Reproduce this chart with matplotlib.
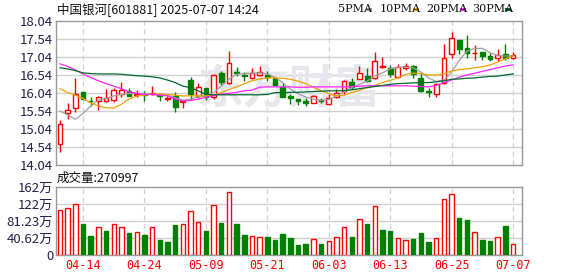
import matplotlib
matplotlib.use("Agg")
import matplotlib.pyplot as plt
import numpy as np

plt.rcParams['font.family'] = ['Noto Sans CJK SC', 'DejaVu Sans']

# daily OHLC, 2025-04-09 .. 2025-07-07
opens = [14.62, 15.49, 15.63, 16.06, 15.83, 15.82, 15.82, 15.84, 16.02, 16.10,
         15.99, 16.01, 16.01, 16.00, 15.88, 15.96, 15.80, 16.41, 15.96, 16.19,
         15.93, 16.60, 16.33, 16.62, 16.54, 16.46, 16.54, 16.53, 16.45, 16.21,
         15.96, 15.86, 15.83, 15.77, 15.84, 15.74, 15.94, 16.10, 16.35, 16.44,
         16.52, 16.45, 16.77, 16.74, 16.49, 16.74, 16.78, 16.47, 16.09, 16.00,
         16.33, 17.13, 17.52, 17.29, 17.14, 17.18, 17.08, 17.00, 17.13, 17.00]
closes = [15.19, 15.58, 16.00, 15.87, 15.81, 15.94, 15.89, 16.12, 16.13, 15.97,
          16.02, 15.98, 16.04, 15.96, 15.91, 15.66, 15.83, 16.00, 16.21, 15.93,
          16.53, 16.34, 16.88, 16.60, 16.51, 16.59, 16.63, 16.49, 16.25, 15.94,
          15.89, 15.82, 15.75, 15.95, 15.82, 15.89, 16.05, 16.37, 16.21, 16.60,
          16.37, 16.94, 16.80, 16.57, 16.77, 16.80, 16.57, 16.10, 16.07, 16.28,
          17.02, 17.57, 17.26, 17.14, 17.16, 17.08, 16.98, 17.10, 17.01, 17.09]
highs = [15.28, 15.76, 16.45, 16.07, 15.93, 15.95, 16.14, 16.19, 16.35, 16.17,
         16.11, 16.10, 16.23, 16.00, 15.97, 16.08, 15.84, 16.49, 16.31, 16.19,
         16.57, 16.65, 17.22, 16.77, 16.63, 16.74, 16.78, 16.65, 16.46, 16.33,
         16.00, 15.86, 15.89, 15.98, 15.89, 16.00, 16.16, 16.39, 16.46, 16.80,
         16.74, 17.18, 17.04, 16.83, 16.85, 16.88, 16.83, 16.60, 16.19, 16.33,
         17.41, 17.73, 17.52, 17.66, 17.38, 17.18, 17.15, 17.25, 17.41, 17.17]
lows = [14.39, 15.33, 15.52, 15.86, 15.68, 15.57, 15.80, 15.80, 15.93, 15.95,
        15.93, 15.82, 15.98, 15.82, 15.82, 15.51, 15.63, 15.84, 15.91, 15.84,
        15.88, 16.25, 16.28, 16.50, 16.37, 16.42, 16.51, 16.37, 16.23, 15.93,
        15.73, 15.70, 15.68, 15.75, 15.76, 15.71, 15.91, 16.02, 16.14, 16.42,
        16.34, 16.42, 16.74, 16.49, 16.46, 16.67, 16.46, 16.07, 15.93, 15.93,
        16.30, 17.02, 17.11, 17.02, 16.95, 16.95, 16.94, 16.94, 16.96, 16.98]

ma5 = [15.54, 15.43, 15.31, 15.47, 15.68, 15.84, 15.89, 15.96, 16.00, 16.03,
       16.03, 16.02, 16.00, 16.00, 15.98, 15.91, 15.84, 15.87, 15.93, 15.96,
       16.05, 16.23, 16.42, 16.56, 16.58, 16.59, 16.60, 16.57, 16.48, 16.33,
       16.15, 16.02, 15.93, 15.87, 15.84, 15.86, 15.95, 16.07, 16.19, 16.28,
       16.37, 16.51, 16.60, 16.71, 16.76, 16.76, 16.74, 16.62, 16.46, 16.36,
       16.40, 16.62, 16.95, 17.20, 17.28, 17.28, 17.16, 17.08, 17.07, 17.07]
ma10 = [16.16, 16.05, 15.98, 15.89, 15.76, 15.68, 15.63, 15.62, 15.73, 15.87,
        15.96, 15.98, 16.01, 16.01, 16.00, 15.98, 15.96, 15.96, 15.96, 15.96,
        15.99, 16.05, 16.14, 16.21, 16.30, 16.38, 16.43, 16.46, 16.46, 16.45,
        16.42, 16.37, 16.30, 16.20, 16.10, 16.02, 15.96, 15.98, 16.05, 16.12,
        16.19, 16.25, 16.33, 16.39, 16.46, 16.56, 16.59, 16.58, 16.54, 16.54,
        16.57, 16.65, 16.69, 16.71, 16.74, 16.77, 16.82, 16.90, 16.99, 17.07]
ma20 = [16.85, 16.78, 16.68, 16.57, 16.47, 16.38, 16.30, 16.23, 16.16, 16.07,
        16.03, 16.00, 16.00, 15.98, 15.96, 15.87, 15.82, 15.83, 15.87, 15.92,
        15.97, 16.01, 16.03, 16.06, 16.10, 16.12, 16.20, 16.21, 16.21, 16.21,
        16.21, 16.20, 16.20, 16.21, 16.21, 16.21, 16.21, 16.21, 16.22, 16.23,
        16.24, 16.24, 16.24, 16.24, 16.24, 16.24, 16.23, 16.22, 16.21, 16.25,
        16.33, 16.40, 16.48, 16.54, 16.59, 16.64, 16.69, 16.74, 16.79, 16.82]
ma30 = [16.74, 16.71, 16.66, 16.60, 16.58, 16.57, 16.57, 16.57, 16.56, 16.54,
        16.52, 16.51, 16.49, 16.46, 16.40, 16.33, 16.23, 16.19, 16.10, 16.00,
        15.99, 15.99, 15.99, 15.99, 15.99, 15.99, 15.99, 16.00, 16.05, 16.05,
        16.06, 16.06, 16.07, 16.08, 16.09, 16.10, 16.10, 16.11, 16.13, 16.16,
        16.19, 16.22, 16.25, 16.28, 16.30, 16.31, 16.32, 16.33, 16.33, 16.35,
        16.38, 16.42, 16.43, 16.45, 16.46, 16.48, 16.50, 16.51, 16.54, 16.57]

# volume in 万手, colour by close vs previous close (1 = up / red)
volume = [108.6, 113.3, 121.3, 73.7, 45.2, 65.8, 57.0, 72.9, 65.8, 52.3,
          54.7, 47.6, 65.8, 35.7, 30.9, 71.3, 72.9, 106.2, 78.5, 57.0,
          120.5, 76.1, 150.6, 73.7, 47.6, 44.4, 42.0, 42.8, 35.7, 49.9,
          40.4, 23.8, 26.2, 37.2, 26.2, 33.3, 42.0, 65.8, 42.8, 87.2,
          73.7, 118.1, 59.4, 57.0, 39.6, 34.9, 38.0, 52.3, 30.9, 39.6,
          134.7, 145.0, 88.0, 83.2, 53.9, 35.7, 33.3, 42.0, 69.0, 27.1]
vol_up = [1, 1, 1, 0, 0, 1, 0, 1, 1, 0, 1, 0, 1, 0, 0, 0, 1, 1, 1, 0,
          1, 0, 1, 0, 0, 1, 1, 0, 0, 0, 0, 0, 0, 1, 0, 1, 1, 1, 0, 1,
          0, 1, 0, 0, 1, 1, 0, 0, 0, 1, 1, 1, 0, 0, 1, 0, 0, 1, 0, 1]

date_pos = [3, 11, 19, 27, 35, 43, 51, 59]
date_labels = ['04-14', '04-24', '05-09', '05-21', '06-03', '06-13', '06-25', '07-07']
price_ticks = [14.04, 14.54, 15.04, 15.54, 16.04, 16.54, 17.04, 17.54, 18.04]
vol_ticks = [0, 40.62, 81.23, 121.85, 162.46]
vol_labels = ['0', '40.62万', '81.23万', '122万', '162万']

RED = '#ff0000'
GREEN = '#008000'
GRID = '#d0d0d0'
SPINE = '#999999'
TICKC = '#22224a'

fig = plt.figure(figsize=(5.78, 2.76), dpi=100)
ax = fig.add_axes([56/578, 1-165/276, 466/578, 144/276])
axv = fig.add_axes([56/578, 1-255/276, 466/578, 68/276])

x = np.arange(len(opens))
o = np.array(opens); c = np.array(closes)
up = c >= o

for a in (ax, axv):
    a.set_xlim(-0.52, 60.17)
    for s in a.spines.values():
        s.set_color(SPINE)
        s.set_linewidth(1.0)
    for p in date_pos:
        a.axvline(p, color=GRID, ls=(0, (4, 3)), lw=0.9, zorder=0)
    a.tick_params(length=0, colors=TICKC, labelsize=9.5, pad=2)

# watermark
ax.text(0.5, 0.52, '东方财富', transform=ax.transAxes, fontsize=33,
        fontweight='bold', color='#e6e6ec', ha='center', va='center', zorder=0.5)

ax.set_ylim(14.04, 18.04)
ax.set_yticks(price_ticks)
ax.set_yticklabels(['%.2f' % t for t in price_ticks])
ax.set_xticks([])
for t in price_ticks[1:-1]:
    ax.axhline(t, color=GRID, lw=1.0, zorder=0)

# wicks
ax.vlines(x, lows, highs, colors=[RED if u else GREEN for u in up], lw=1.0, zorder=2)
# bodies
body_h = np.maximum(np.abs(c - o), 0.006)
body_b = np.minimum(c, o)
ax.bar(x[up], body_h[up], 0.62, bottom=body_b[up], facecolor='white',
       edgecolor=RED, lw=1.0, zorder=3)
ax.bar(x[~up], body_h[~up], 0.62, bottom=body_b[~up], facecolor=GREEN,
       edgecolor=GREEN, lw=1.0, zorder=3)

ax.plot(x, ma5, color='#a0a0a0', lw=0.9, zorder=4)
ax.plot(x, ma10, color='#f0a000', lw=0.9, zorder=4)
ax.plot(x, ma20, color='#ff22ff', lw=0.9, zorder=4)
ax.plot(x, ma30, color='#006a30', lw=0.9, zorder=4)

# volume
vu = np.array(vol_up) == 1
vv = np.array(volume)
axv.bar(x[vu], vv[vu], 0.58, facecolor='white', edgecolor=RED, lw=1.0, zorder=3)
axv.bar(x[~vu], vv[~vu], 0.58, facecolor=GREEN, edgecolor=GREEN, lw=1.0, zorder=3)
axv.set_ylim(0, 162.46)
axv.set_yticks(vol_ticks)
axv.set_yticklabels(vol_labels)
for t in vol_ticks[1:-1]:
    axv.axhline(t, color=GRID, lw=1.0, zorder=0)
axv.set_xticks(date_pos)
axv.set_xticklabels(date_labels, family='DejaVu Sans Mono', fontsize=8.5, color=RED)
axv.tick_params(axis='x', pad=3)

# titles and legend
fig.text(57/578, 1-9/276, '中国银河[601881] 2025-07-07 14:24', fontsize=9,
         va='center', ha='left', color='#111111')
fig.text(57/578, 1-178/276, '成交量:270997', fontsize=9,
         va='center', ha='left', color='#111111')
legend = [('5PMA', 338, 366, '#a0a0a0'), ('10PMA', 380, 413, '#f0a000'),
          ('20PMA', 426, 460, '#ff22ff'), ('30PMA', 472, 505, '#006a30')]
for name, tx, sx, col in legend:
    fig.text(tx/578, 1-9/276, name, fontsize=8, va='center', ha='left',
             family='DejaVu Serif', color='#111111')
    fig.add_artist(plt.Rectangle((sx/578, 1-11/276), 6/578, 3.5/276,
                                 transform=fig.transFigure, facecolor=col,
                                 edgecolor='none'))

fig.savefig('out.png', dpi=100)
